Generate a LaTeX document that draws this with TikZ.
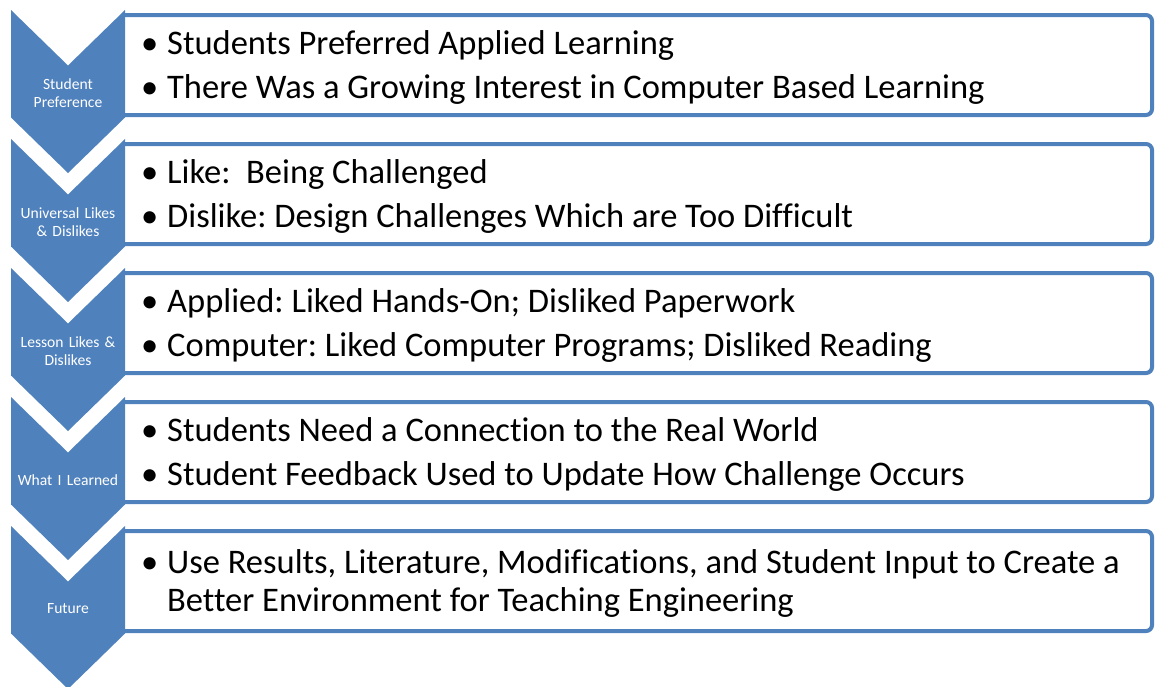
\documentclass[tikz,border=0pt]{standalone}
\usepackage{fontspec}
\setmainfont[Ligatures=NoCommon]{Carlito}
\frenchspacing
\definecolor{accent}{HTML}{4F81BD}
\newcommand{\itm}{\makebox[26pt][l]{\textbullet}}
\begin{document}
\begin{tikzpicture}[x=1pt,y=-1pt,
  chev/.style={fill=accent,draw=none},
  panel/.style={draw=accent,line width=4pt,fill=white,rounded corners=6pt},
  lbl/.style={text=white,font=\fontsize{15.6}{18}\selectfont,align=center,text width=112pt,inner sep=0pt},
  body/.style={anchor=west,font=\fontsize{34.5}{37.5}\selectfont,align=left,inner sep=0pt}]
\useasboundingbox (0,0) rectangle (1155,686);
% one row: panel, chevron and the chevron caption
\foreach \t/\cap [count=\i] in {10/{Student\\Preference},139/{Universal Likes\\\& Dislikes},268/{Lesson Likes \&\\Dislikes},397/{What I Learned},526/{Future}}{
  \filldraw[panel] (125,\t+5) -- (1152,\t+5) -- (1152,\t+105) -- (125,\t+105);
  \fill[chev] (11,\t) -- (68,\t+55.5) -- (125,\t) -- (125,\t+107.5) -- (68,\t+163) -- (11,\t+107.5) -- cycle;
  \node[lbl] (cap\i) at (68,\t+83) {\cap};
}
\node[body] (txt1) at (141,67) {\itm Students Preferred Applied Learning\\[6.5pt]\itm There Was a Growing Interest in Computer Based Learning};
\node[body] (txt2) at (141,196) {\itm Like:\ \ Being Challenged\\[6.5pt]\itm Dislike: Design Challenges Which are Too Difficult};
\node[body] (txt3) at (141,325) {\itm Applied: Liked Hands-On; Disliked Paperwork\\[6.5pt]\itm Computer: Liked Computer Programs; Disliked Reading};
\node[body] (txt4) at (141,454) {\itm Students Need a Connection to the Real World\\[6.5pt]\itm Student Feedback Used to Update How Challenge Occurs};
\node[body] (txt5) at (141,583.5) {\itm Use Results, Literature, Modifications, and Student Input to Create a\\\hspace*{26pt}Better Environment for Teaching Engineering};
\end{tikzpicture}
\end{document}
